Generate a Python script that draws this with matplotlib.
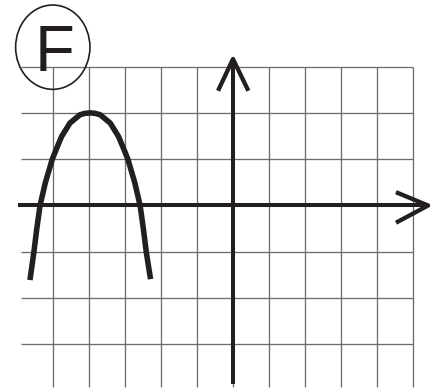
import matplotlib
matplotlib.use('Agg')
import matplotlib.pyplot as plt
from matplotlib.patches import Ellipse

# grid positions (in grid units)
grid_x = [-5, -4, -3, -2, -1, 0, 1, 2, 3, 4, 5]
grid_y = [-3, -2, -1, 0, 1, 2, 3]

# parabola, left end -> vertex -> right end
curve_x = [-5.64, -5.53, -5.45, -5.36, -5.21, -5.02, -4.89, -4.76, -4.53,
           -4.25, -4.11, -3.97, -3.83, -3.69, -3.41, -3.18, -3.05, -2.92,
           -2.73, -2.58, -2.49, -2.41, -2.29]
curve_y = [-1.61, -1.00, -0.50, 0.00, 0.50, 1.00, 1.25, 1.49, 1.78,
           1.96, 1.99, 2.00, 1.99, 1.96, 1.78, 1.49, 1.25, 1.00,
           0.50, 0.00, -0.50, -1.00, -1.59]

label = 'F'

ink = '#231f20'
gray = '#6e6e6e'

fig = plt.figure(figsize=(4.41, 3.89), dpi=100)
ax = fig.add_axes([0, 0, 1, 1])
ax.set_xlim(-6.472, 5.778)
ax.set_ylim(-3.963, 4.438)
ax.axis('off')

# grid
ax.vlines(grid_x, -3.92, 3, color=gray, lw=0.95, zorder=1)
ax.hlines(grid_y, -5.89, 5, color=gray, lw=0.95, zorder=1)

# axes with open arrow heads
ax.plot([-5.97, 5.40], [0, 0], color=ink, lw=2.9, zorder=2, solid_capstyle='butt')
ax.plot([4.58, 5.42, 4.58], [0.27, 0, -0.35], color=ink, lw=3.1, zorder=2)
ax.plot([0, 0], [-3.855, 3.12], color=ink, lw=2.9, zorder=2, solid_capstyle='butt')
ax.plot([-0.39, 0, 0.40], [2.52, 3.164, 2.52], color=ink, lw=3.1, zorder=2)

# curve
ax.plot(curve_x, curve_y, color=ink, lw=4.0, zorder=3,
        solid_joinstyle='round', solid_capstyle='butt')

# circled label
ax.add_patch(Ellipse((-5.006, 3.419), 2.064, 1.821, fill=False,
                     edgecolor=ink, lw=1.2, zorder=4))
ax.text(-4.944, 2.911, label, ha='center', va='baseline',
        fontsize=47, family='Liberation Sans', color=ink, zorder=5)

fig.savefig('out.png', dpi=100)
